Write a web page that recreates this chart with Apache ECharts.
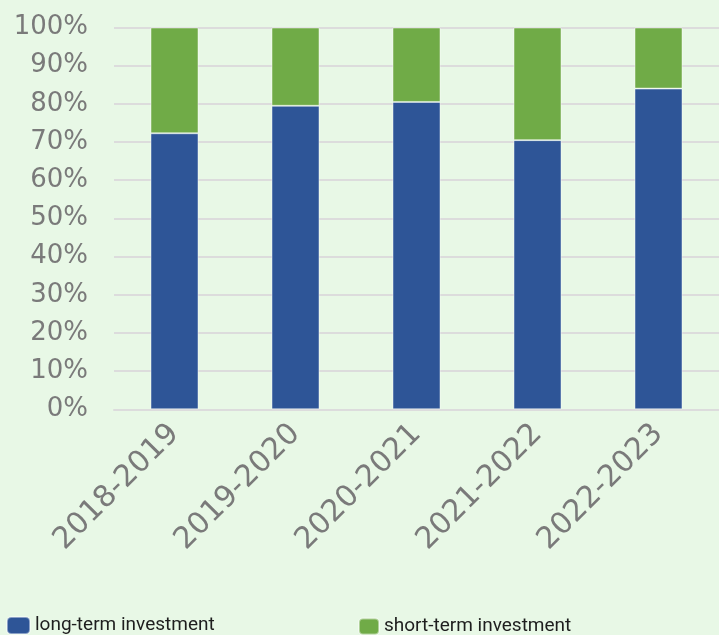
<!DOCTYPE html>
<html>
<head>
<meta charset="utf-8">
<script src="https://cdn.jsdelivr.net/npm/echarts@6/dist/echarts.min.js"></script>
<style>
  html, body { margin: 0; padding: 0; background: #e8f8e6; }
  #chart { width: 719px; height: 635px; }
</style>
</head>
<body>
<div id="chart"></div>
<script>
// Share of investment by term, per fiscal year
const categories = ['2018-2019', '2019-2020', '2020-2021', '2021-2022', '2022-2023'];
const longTerm = [72.3, 79.5, 80.5, 70.5, 84.0];
const shortTerm = [27.7, 20.5, 19.5, 29.5, 16.0];
const yTicks = [0, 10, 20, 30, 40, 50, 60, 70, 80, 90, 100];

const axisFont = "'DejaVu Sans', sans-serif";
const legendFont = "'Liberation Sans Narrow', 'Roboto', sans-serif";

const chart = echarts.init(document.getElementById('chart'));
chart.setOption({
  backgroundColor: '#e8f8e6',
  animation: false,
  grid: { left: 114, right: 0, top: 27.5, bottom: 225.7 },
  legend: [
    {
      left: 1, top: 611,
      icon: 'roundRect', itemWidth: 23, itemHeight: 17,
      textStyle: { fontFamily: legendFont, fontSize: 19, color: '#1e1e1e' },
      data: ['long-term investment']
    },
    {
      left: 353, top: 612,
      icon: 'roundRect', itemWidth: 20, itemHeight: 16,
      textStyle: { fontFamily: legendFont, fontSize: 19, color: '#1e1e1e' },
      data: ['short-term investment']
    }
  ],
  xAxis: {
    type: 'category',
    data: categories,
    axisTick: { show: false },
    axisLine: { lineStyle: { color: '#dcdcdc', width: 2 } },
    axisLabel: {
      rotate: 45, margin: 20,
      fontFamily: axisFont, fontSize: 30, color: '#7a7a7a'
    }
  },
  yAxis: {
    type: 'value',
    min: yTicks[0], max: yTicks[yTicks.length - 1], interval: 10,
    axisLine: { show: false },
    axisTick: { show: false },
    splitLine: { lineStyle: { color: '#dcdcdc', width: 2 } },
    axisLabel: {
      margin: 26, padding: [0, 0, 10, 0],
      fontFamily: axisFont, fontSize: 26, color: '#7a7a7a',
      formatter: '{value}%'
    }
  },
  series: [
    {
      name: 'long-term investment', type: 'bar', stack: 'total',
      barWidth: 48, data: longTerm,
      itemStyle: { color: '#2e5597', borderColor: 'rgba(255,255,255,0.45)', borderWidth: 1 }
    },
    {
      name: 'short-term investment', type: 'bar', stack: 'total',
      barWidth: 48, data: shortTerm,
      itemStyle: { color: '#70ab47', borderColor: 'rgba(255,255,255,0.45)', borderWidth: 1 }
    }
  ]
});
</script>
</body>
</html>
